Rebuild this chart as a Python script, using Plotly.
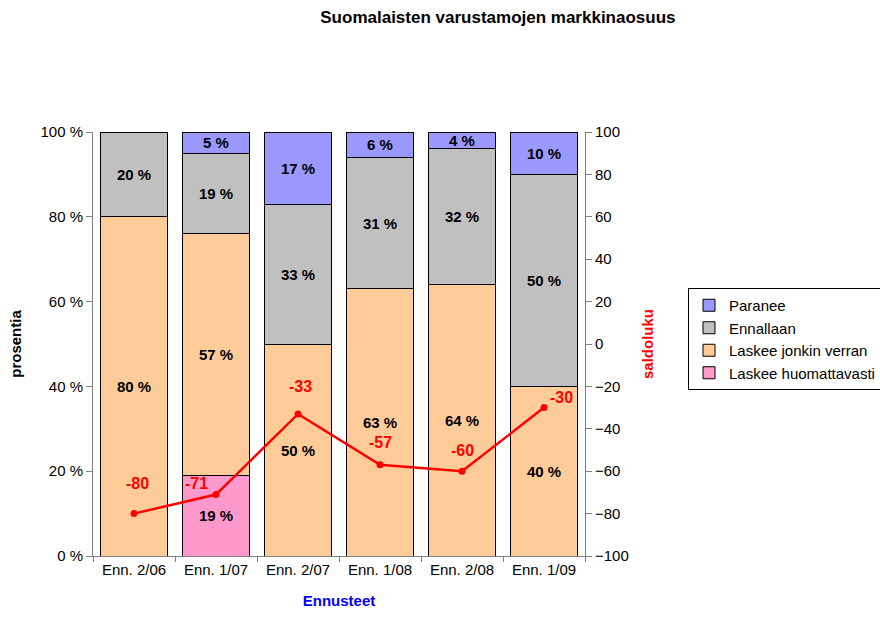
import plotly.graph_objects as go

categories = ["Enn. 2/06", "Enn. 1/07", "Enn. 2/07", "Enn. 1/08", "Enn. 2/08", "Enn. 1/09"]
laskee_huomattavasti = [None, 19, None, None, None, None]
laskee_jonkin_verran = [80, 57, 50, 63, 64, 40]
ennallaan = [20, 19, 33, 31, 32, 50]
paranee = [None, 5, 17, 6, 4, 10]
saldoluku = [-80, -71, -33, -57, -60, -30]

series = [
    ("Laskee huomattavasti", laskee_huomattavasti, "#FF99CC"),
    ("Laskee jonkin verran", laskee_jonkin_verran, "#FFCC99"),
    ("Ennallaan", ennallaan, "#C0C0C0"),
    ("Paranee", paranee, "#9999FF"),
]

FONT = "Liberation Sans, Arial, sans-serif"
fig = go.Figure()
for name, vals, color in series:
    fig.add_trace(go.Bar(
        x=categories, y=vals, name=name,
        marker=dict(color=color, line=dict(color="black", width=1)),
        text=[f"{v} %" if v else "" for v in vals],
        textposition="inside", insidetextanchor="middle",
        textfont=dict(family=FONT, size=15, color="black", weight="bold"),
        constraintext="none", cliponaxis=False,
    ))

fig.add_trace(go.Scatter(
    x=categories, y=saldoluku, yaxis="y2", mode="lines+markers",
    line=dict(color="#FF0000", width=2.5),
    marker=dict(color="#FF0000", size=7),
    showlegend=False,
))

shifts = [(3, 30), (-20, 11), (2, 27), (0, 22), (0, 21), (17, 10)]
for c, s, (dx, dy) in zip(categories, saldoluku, shifts):
    fig.add_annotation(x=c, y=s, yref="y2", text=f"<b>{s}</b>", showarrow=False,
                       xshift=dx, yshift=dy,
                       font=dict(family=FONT, size=16, color="#FF0000"))

fig.update_layout(
    width=880, height=627,
    paper_bgcolor="white", plot_bgcolor="white",
    barmode="stack", bargap=0.18,
    margin=dict(l=93, r=295, t=132, b=71, autoexpand=False),
    font=dict(family=FONT, size=15, color="black"),
    title=dict(text="<b>Suomalaisten varustamojen markkinaosuus</b>",
               x=0.823, xref="paper", xanchor="center",
               y=1 - 17 / 627, yref="container", yanchor="middle",
               font=dict(family=FONT, size=17, color="black")),
    xaxis=dict(
        type="category", showline=True, linecolor="#808080", linewidth=1,
        ticks="outside", tickson="boundaries", ticklen=5, tickcolor="#808080",
        tickfont=dict(size=15),
        title=dict(text="<b>Ennusteet</b>", font=dict(color="#0000FF", size=15), standoff=18),
        showgrid=False,
    ),
    yaxis=dict(
        range=[0, 100], dtick=20, ticksuffix=" %", showgrid=False, zeroline=False,
        showline=True, linecolor="#808080", linewidth=1,
        ticks="outside", ticklen=6, tickcolor="#808080",
        tickfont=dict(size=15),
        title=dict(text="<b>prosentia</b>", font=dict(size=15), standoff=15),
    ),
    yaxis2=dict(
        range=[-100, 100], dtick=20, overlaying="y", side="right",
        showgrid=False, zeroline=False,
        showline=True, linecolor="#808080", linewidth=1,
        ticks="outside", ticklen=6, tickcolor="#808080",
        tickfont=dict(size=15),
        title=dict(text="<b>saldoluku</b>", font=dict(size=15, color="#FF0000"), standoff=14),
    ),
    legend=dict(
        x=(688 - 93) / 492, y=(556 - 288) / 424, xanchor="left", yanchor="top",
        traceorder="reversed", bordercolor="black", borderwidth=1,
        font=dict(size=15), tracegroupgap=0, itemwidth=30,
    ),
)

fig.write_html("out.html", config={"displayModeBar": False},
               post_script="document.body.style.margin='0';")
